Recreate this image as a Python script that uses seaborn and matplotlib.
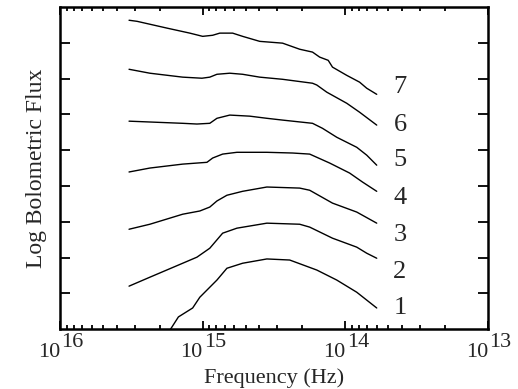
import matplotlib
matplotlib.use("Agg")
import matplotlib.pyplot as plt
import matplotlib.ticker as mticker
import numpy as np
import pandas as pd
import seaborn as sns

# log10 frequency (Hz) and log flux (arbitrary offset) for each spectrum
logf_1 = [15.25, 15.215, 15.17, 15.07, 15.02, 14.90, 14.83, 14.72, 14.55, 14.39, 14.20, 14.06, 13.92, 13.78]
flux_1 = [-0.15, 0.06, 0.34, 0.59, 0.89, 1.37, 1.70, 1.84, 1.96, 1.93, 1.65, 1.37, 1.03, 0.59]

logf_2 = [15.516, 15.37, 15.14, 15.04, 14.95, 14.86, 14.76, 14.55, 14.32, 14.25, 14.09, 13.92, 13.85, 13.78]
flux_2 = [1.20, 1.45, 1.84, 2.01, 2.26, 2.68, 2.82, 2.96, 2.93, 2.85, 2.54, 2.29, 2.12, 1.98]

logf_3 = [15.516, 15.37, 15.14, 15.02, 14.95, 14.90, 14.83, 14.72, 14.55, 14.32, 14.25, 14.09, 13.92, 13.78]
flux_3 = [2.79, 2.93, 3.21, 3.30, 3.41, 3.58, 3.74, 3.85, 3.97, 3.94, 3.88, 3.52, 3.27, 2.96]

logf_4 = [15.516, 15.37, 15.14, 14.97, 14.93, 14.86, 14.76, 14.55, 14.37, 14.25, 14.11, 13.97, 13.88, 13.78]
flux_4 = [4.39, 4.50, 4.61, 4.66, 4.78, 4.89, 4.94, 4.94, 4.92, 4.89, 4.64, 4.36, 4.11, 3.85]

logf_5 = [15.516, 15.14, 15.04, 14.95, 14.90, 14.81, 14.67, 14.55, 14.44, 14.23, 14.16, 14.06, 13.92, 13.85, 13.78]
flux_5 = [5.81, 5.75, 5.73, 5.75, 5.89, 5.98, 5.95, 5.89, 5.84, 5.75, 5.61, 5.36, 5.08, 4.86, 4.58]

logf_6 = [15.516, 15.37, 15.14, 15.005, 14.95, 14.90, 14.81, 14.72, 14.60, 14.44, 14.23, 14.20, 14.13, 13.99, 13.90, 13.78]
flux_6 = [7.26, 7.15, 7.04, 7.01, 7.04, 7.12, 7.15, 7.12, 7.04, 6.98, 6.87, 6.82, 6.62, 6.31, 6.06, 5.70]

logf_7 = [15.516, 15.46, 15.25, 15.09, 15.00, 14.93, 14.88, 14.79, 14.72, 14.60, 14.44, 14.32, 14.23, 14.18, 14.12, 14.09, 13.99, 13.90, 13.85, 13.78]
flux_7 = [8.63, 8.60, 8.41, 8.27, 8.18, 8.21, 8.27, 8.27, 8.18, 8.04, 7.99, 7.82, 7.74, 7.60, 7.51, 7.32, 7.09, 6.90, 6.73, 6.56]

curve_names = ["1", "2", "3", "4", "5", "6", "7"]
label_y = [0.59, 1.59, 2.63, 3.66, 4.72, 5.70, 6.76]
decades = [16, 15, 14, 13]

sns.set_style("ticks")
plt.rcParams["font.family"] = ["Liberation Serif", "DejaVu Serif"]

all_logf = [logf_1, logf_2, logf_3, logf_4, logf_5, logf_6, logf_7]
all_flux = [flux_1, flux_2, flux_3, flux_4, flux_5, flux_6, flux_7]
frames = []
for name, lf, fl in zip(curve_names, all_logf, all_flux):
    frames.append(pd.DataFrame({"freq": 10 ** np.array(lf), "flux": fl, "curve": name}))
df = pd.concat(frames, ignore_index=True)

fig = plt.figure(figsize=(5.18, 3.89), dpi=100)
ax = fig.add_axes([0.1158, 0.154, 0.8263, 0.828])

sns.lineplot(data=df, x="freq", y="flux", units="curve", estimator=None,
             color="black", linewidth=1.0, sort=False, ax=ax)

ax.set_xscale("log")
ax.set_xlim(1e16, 1e13)
ax.set_ylim(0, 9)
ax.set_yticks(range(1, 9))
ax.yaxis.set_major_formatter(mticker.NullFormatter())
ax.xaxis.set_major_formatter(mticker.NullFormatter())
ax.xaxis.set_minor_locator(mticker.LogLocator(base=10, subs=np.arange(2, 10)))
ax.xaxis.set_minor_formatter(mticker.NullFormatter())

ax.tick_params(which="both", direction="in", top=True, right=True, color="black")
ax.tick_params(axis="y", which="major", length=7, width=1.3)
ax.tick_params(axis="x", which="major", length=6, width=1.3)
ax.tick_params(axis="x", which="minor", length=3, width=1.3)
for sp in ax.spines.values():
    sp.set_linewidth(1.8)
    sp.set_color("black")

# tick labels: 10 with a full-size exponent
for d in decades:
    ax.annotate("10", xy=(10.0 ** d, 0), xycoords=("data", "axes fraction"),
                xytext=(0, -10), textcoords="offset points",
                ha="right", va="top", fontsize=16)
    ax.annotate(str(d), xy=(10.0 ** d, 0), xycoords=("data", "axes fraction"),
                xytext=(1, -3), textcoords="offset points",
                ha="left", va="top", fontsize=16)

for name, y in zip(curve_names, label_y):
    ax.text(10 ** 13.617, y, name, ha="center", va="center", fontsize=19)

ax.set_xlabel("Frequency (Hz)", fontsize=16, labelpad=25)
ax.set_ylabel("Log Bolometric Flux", fontsize=17, labelpad=6)

fig.savefig("out.png", dpi=100)
